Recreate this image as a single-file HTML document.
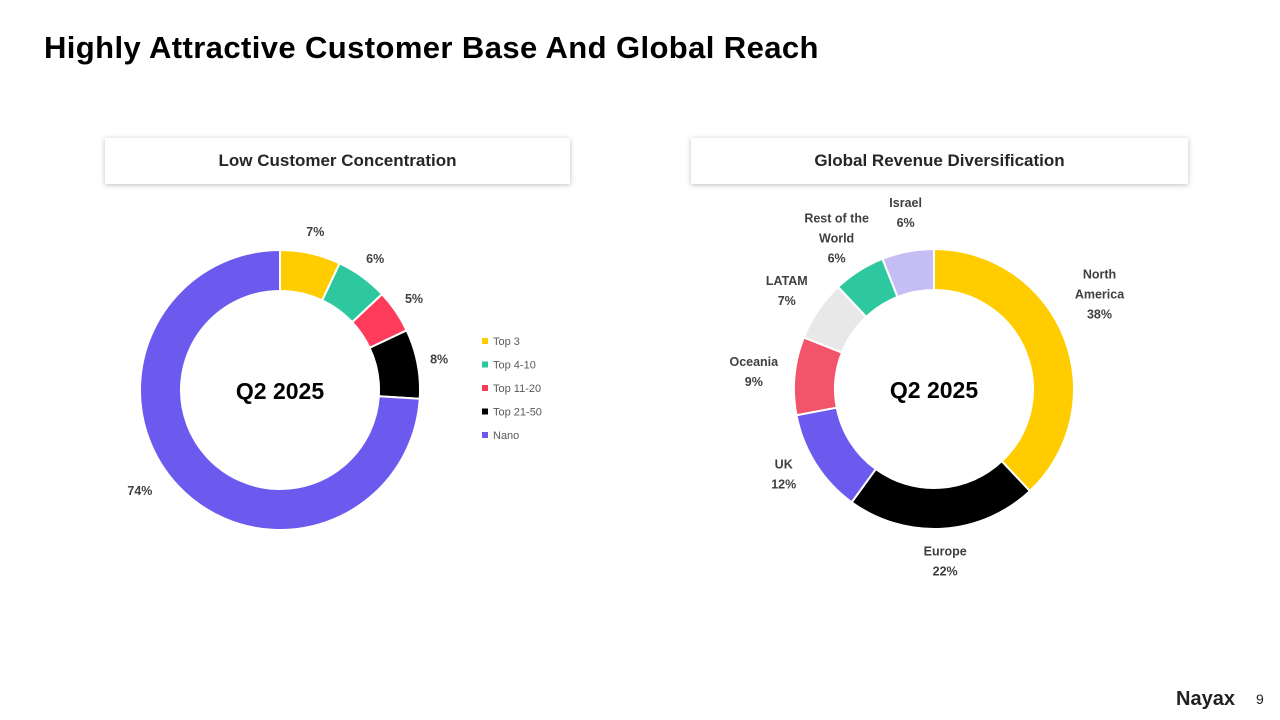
<!DOCTYPE html>
<html><head><meta charset="utf-8"><style>
body{margin:0;width:1280px;height:720px;background:#fff;font-family:"Liberation Sans","DejaVu Sans",sans-serif;overflow:hidden;position:relative}
.title{position:absolute;left:44px;top:30px;font-size:31px;font-weight:bold;color:#000;letter-spacing:0.4px}
.hdr{position:absolute;top:138px;height:46px;background:#fff;box-shadow:0 1px 5px rgba(0,0,0,0.25);font-weight:bold;font-size:17px;color:#262626;text-align:center;line-height:46px}
</style></head><body>
<div class="title">Highly Attractive Customer Base And Global Reach</div>
<div class="hdr" style="left:105px;width:465px">Low Customer Concentration</div>
<div class="hdr" style="left:691px;width:497px">Global Revenue Diversification</div>
<svg id="chart" width="1280" height="720" style="position:absolute;left:0;top:0"></svg>
<div style="position:absolute;left:1176px;top:688px;font-size:20px;font-weight:bold;color:#222">Nayax</div>
<div style="position:absolute;left:1256px;top:691px;font-size:14px;color:#222">9</div>
<script>
const leftCategories=["Top 3","Top 4-10","Top 11-20","Top 21-50","Nano"];
const leftValues=[7,6,5,8,74];
const leftColors=["#FFCC00","#2DC8A0","#FF3B5C","#000000","#6C5AEE"];
const rightCategories=[["North","America"],["Europe"],["UK"],["Oceania"],["LATAM"],["Rest of the","World"],["Israel"]];
const rightValues=[38,22,12,9,7,6,6];
const rightColors=["#FFCC00","#000000","#6C5AEE","#F2546A","#E8E8E8","#2DC8A0","#C5BEF5"];
const leftNudge=[[0,0],[0,0],[0,0],[0,0],[-22,-10]];
const rightNudge=[[0,-29],[0,-5],[0,-10],[-3,0],[0,2],[-2,0],[5,-1]];
const svg=document.getElementById('chart');
const NS="http://www.w3.org/2000/svg";
function pt(cx,cy,r,a){return [cx+r*Math.sin(a),cy-r*Math.cos(a)];}
function donut(cx,cy,ro,ri,vals,cols,name,labelFn,lr,nudge){
  const tot=vals.reduce((a,b)=>a+b,0);let acc=0;
  vals.forEach((v,i)=>{
    const a0=acc/tot*2*Math.PI,a1=(acc+v)/tot*2*Math.PI;acc+=v;
    const [x0,y0]=pt(cx,cy,ro,a0),[x1,y1]=pt(cx,cy,ro,a1),[x2,y2]=pt(cx,cy,ri,a1),[x3,y3]=pt(cx,cy,ri,a0);
    const lg=(a1-a0)>Math.PI?1:0;
    const p=document.createElementNS(NS,'path');
    p.setAttribute('d',`M${x0},${y0}A${ro},${ro} 0 ${lg} 1 ${x1},${y1}L${x2},${y2}A${ri},${ri} 0 ${lg} 0 ${x3},${y3}Z`);
    p.setAttribute('fill',cols[i]);p.setAttribute('stroke','#fff');p.setAttribute('stroke-width','2');
    
    
    svg.appendChild(p);
    const am=(a0+a1)/2;let [lx,ly]=pt(cx,cy,lr,am);
    lx+=nudge[i][0];ly+=nudge[i][1];
    const lines=labelFn(i,v);
    const t=document.createElementNS(NS,'text');
    t.setAttribute('text-anchor','middle');t.setAttribute('font-size','12.5');t.setAttribute('font-weight','bold');t.setAttribute('fill','#404040');
    
    
    const y0l=ly-(lines.length-1)*10+4;
    lines.forEach((s,k)=>{const ts=document.createElementNS(NS,'tspan');ts.setAttribute('x',lx);ts.setAttribute('y',y0l+k*20);ts.textContent=s;t.appendChild(ts);});
    svg.appendChild(t);
  });
  const c=document.createElementNS(NS,'text');
  c.setAttribute('x',cx);c.setAttribute('y',cy+9);c.setAttribute('text-anchor','middle');c.setAttribute('font-size','23');c.setAttribute('font-weight','bold');
  
  
  c.textContent='Q2 2025';svg.appendChild(c);
}
donut(280,390,140,99,leftValues,leftColors,'left-donut',(i,v)=>[v+'%'],162,leftNudge);
donut(934,389,140,99,rightValues,rightColors,'right-donut',(i,v)=>rightCategories[i].concat([v+'%']),178,rightNudge);
leftCategories.forEach((c,i)=>{
  const y=341+i*23.5;
  const r=document.createElementNS(NS,'rect');
  r.setAttribute('x',482);r.setAttribute('y',y-3);r.setAttribute('width',6);r.setAttribute('height',6);r.setAttribute('fill',leftColors[i]);
  
  
  svg.appendChild(r);
  const t=document.createElementNS(NS,'text');
  t.setAttribute('x',493);t.setAttribute('y',y+4);t.setAttribute('font-size','11');t.setAttribute('fill','#595959');t.textContent=c;
  
  
  svg.appendChild(t);
});
</script>
</body></html>
